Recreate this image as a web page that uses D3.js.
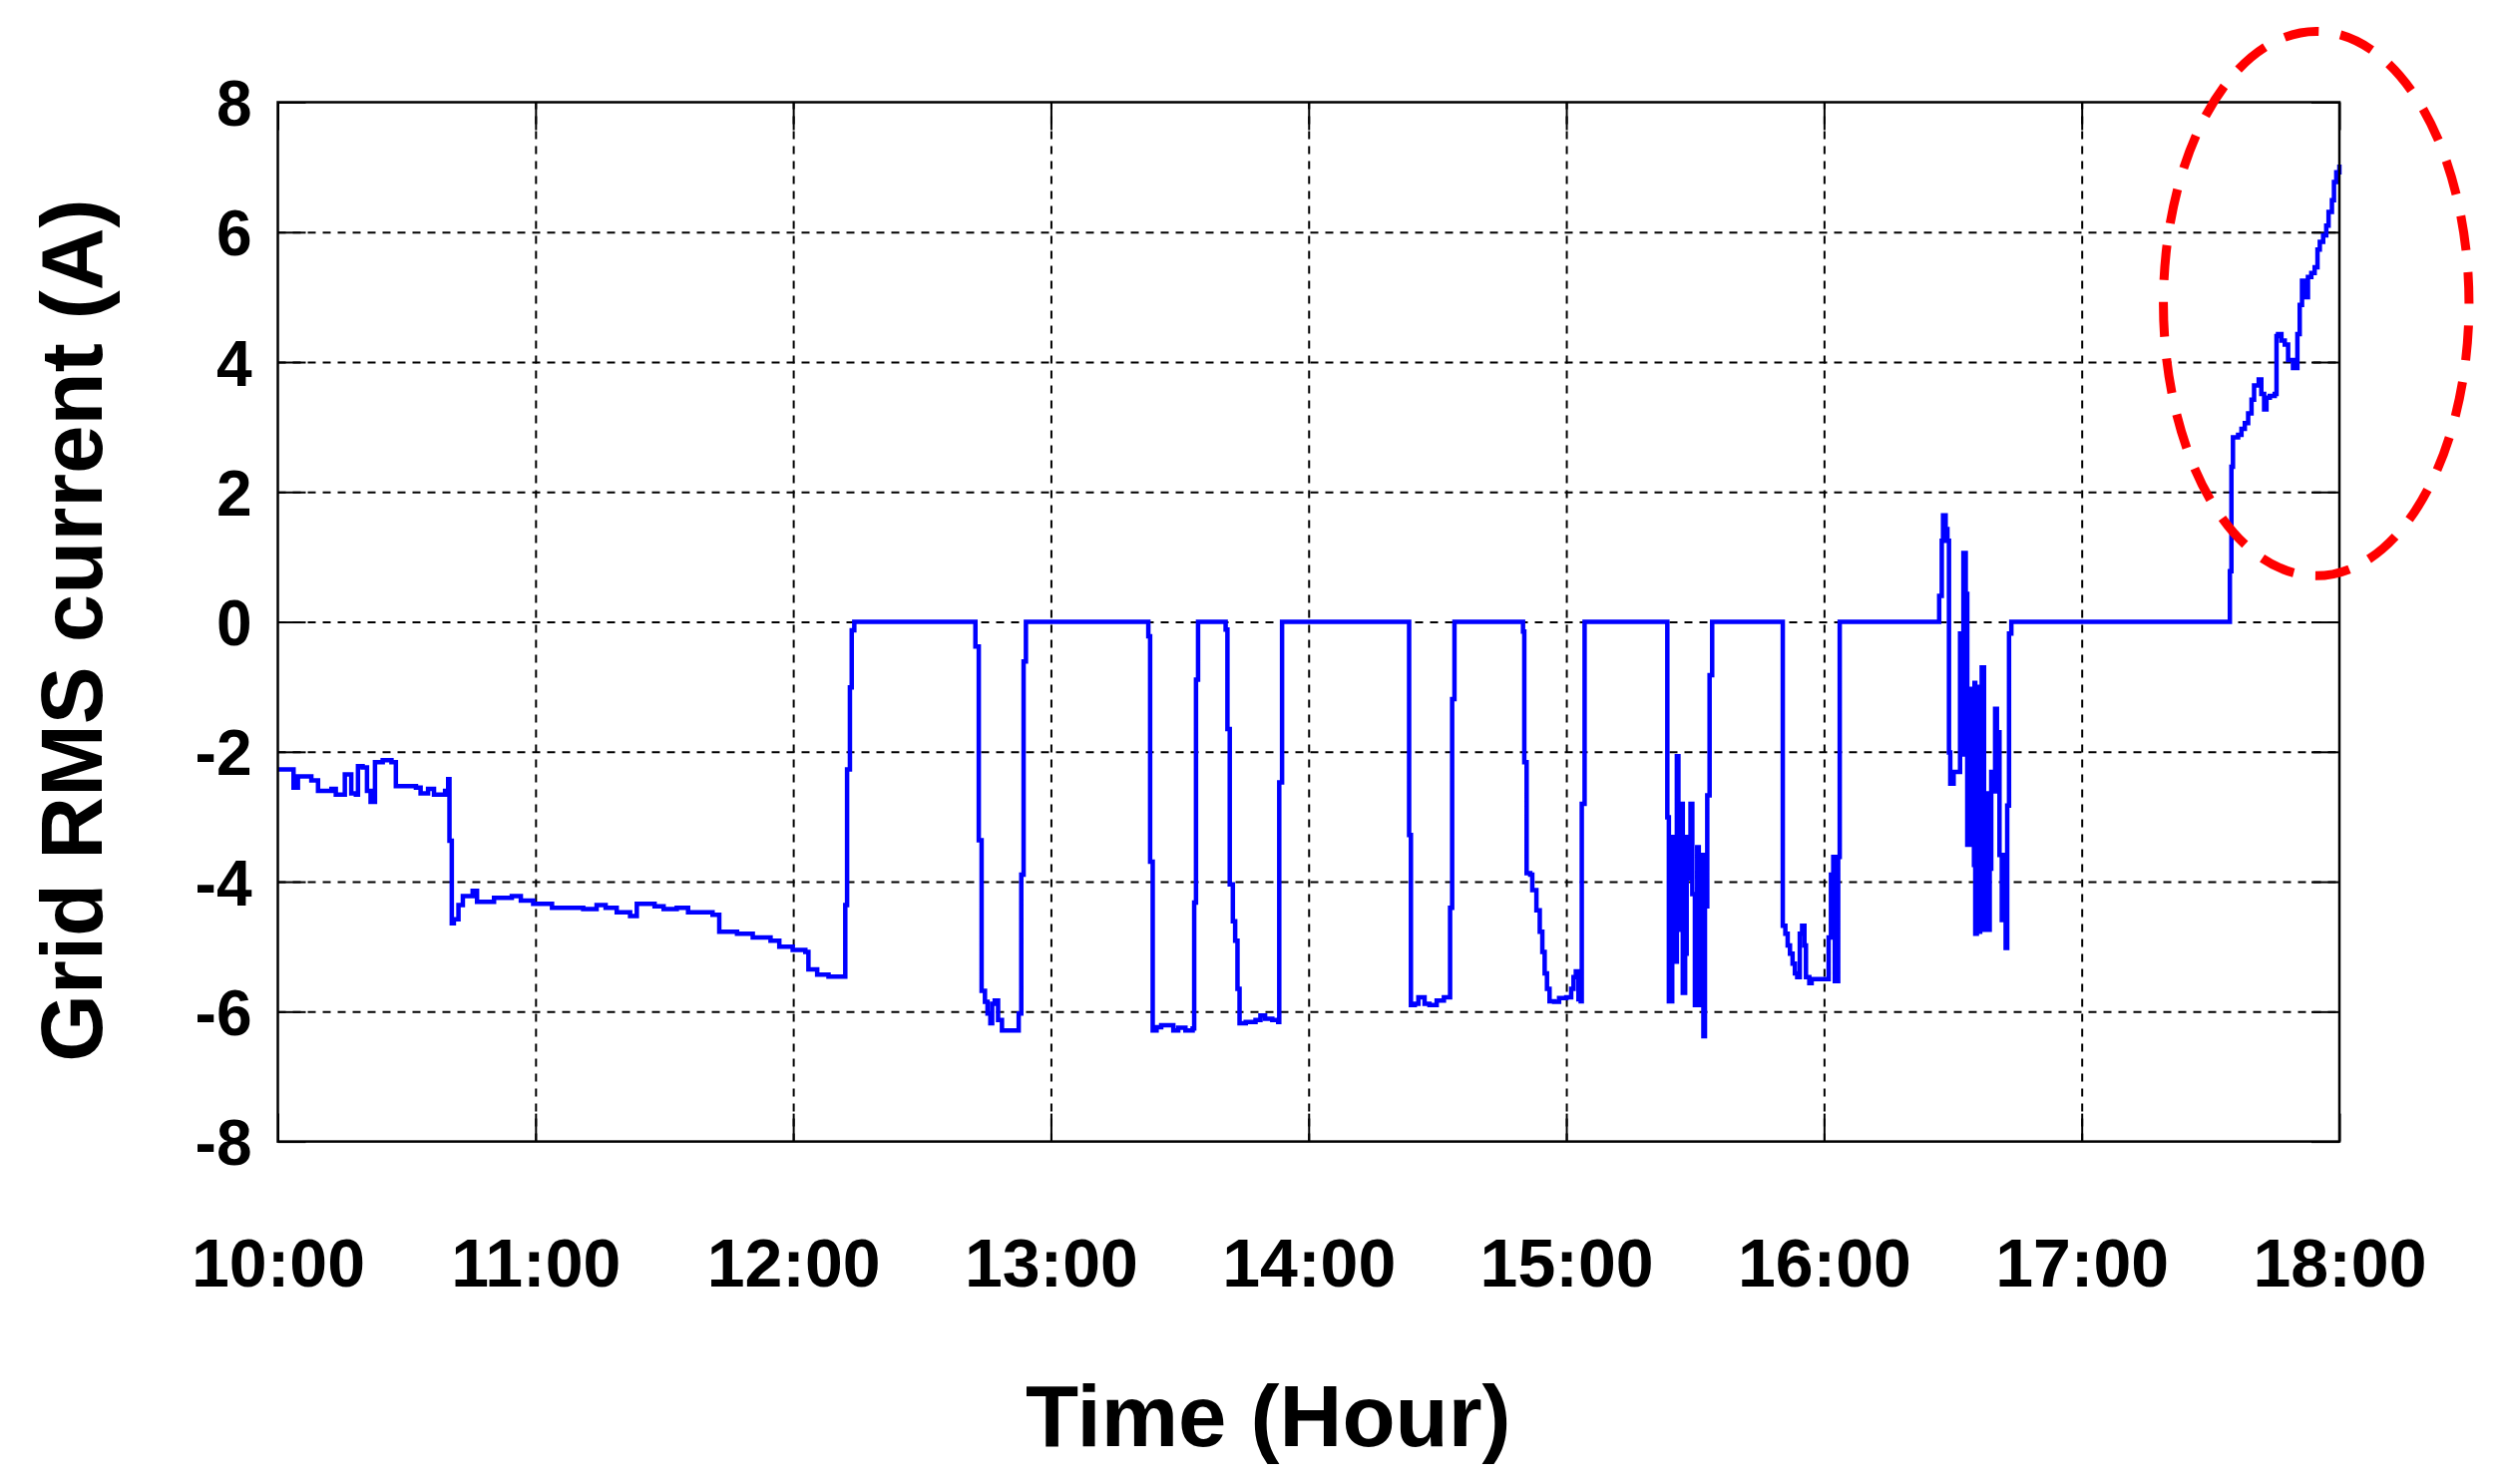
<!DOCTYPE html>
<html>
<head>
<meta charset="utf-8">
<script src="https://cdn.jsdelivr.net/npm/d3@7"></script>
<style>
  body { margin: 0; background: #fff; }
  svg { display: block; }
  .grid line { stroke: #000; stroke-width: 2; stroke-dasharray: 8,7; }
  .grid .domain { display: none; }
  .axis .domain { display: none; }
  .axis line { stroke: #000; stroke-width: 2; }
  .axis text, .label { font-family: "Liberation Sans", Arial, sans-serif; font-weight: bold; fill: #000; }
  .frame { fill: none; stroke: #000; stroke-width: 2.5; }
  .current-line { fill: none; stroke: #0000ff; stroke-width: 4.5; stroke-linejoin: miter; }
  .highlight { fill: none; stroke: #ff0000; stroke-width: 9; stroke-dasharray: 35,22; stroke-dashoffset: 35; }
</style>
</head>
<body>
<div id="chart"></div>
<script>
// time of day in decimal hours
var times = [
  10.000, 10.026, 10.061, 10.078, 10.130, 10.156, 10.208, 10.225, 10.260, 10.285,
  10.303, 10.311, 10.329, 10.346, 10.360, 10.377, 10.407, 10.441, 10.458, 10.536,
  10.554, 10.583, 10.606, 10.649, 10.661, 10.666, 10.675, 10.683, 10.701, 10.718,
  10.756, 10.773, 10.839, 10.908, 10.943, 10.991, 11.064, 11.185, 11.237, 11.272,
  11.315, 11.367, 11.393, 11.462, 11.497, 11.548, 11.592, 11.687, 11.713, 11.782,
  11.843, 11.912, 11.946, 11.998, 12.047, 12.059, 12.093, 12.137, 12.197, 12.202,
  12.209, 12.220, 12.227, 12.237,
  12.705, 12.707, 12.720, 12.731, 12.744, 12.754, 12.765, 12.772, 12.782, 12.795,
  12.810, 12.866, 12.875, 12.885, 12.894, 12.903,
  13.376, 13.378, 13.385, 13.395, 13.410, 13.428, 13.456, 13.475, 13.494, 13.522,
  13.550, 13.556, 13.563, 13.571,
  13.676, 13.678, 13.685, 13.694, 13.706, 13.715, 13.724, 13.732, 13.756, 13.794,
  13.813, 13.831, 13.859, 13.882, 13.886, 13.897,
  14.384, 14.390, 14.397, 14.412, 14.426, 14.450, 14.469, 14.497, 14.525, 14.544,
  14.549, 14.557, 14.566,
  14.828, 14.832, 14.837, 14.846, 14.860, 14.868, 14.884, 14.897, 14.907, 14.916,
  14.925, 14.935, 14.953, 14.972, 15.000, 15.019, 15.028, 15.037, 15.047, 15.056,
  15.060, 15.071,
  15.388, 15.392, 15.398, 15.407, 15.411, 15.420, 15.429, 15.435, 15.444, 15.452,
  15.461, 15.467, 15.476, 15.482, 15.489, 15.499, 15.508, 15.514, 15.523, 15.532,
  15.538, 15.547, 15.556, 15.566,
  15.837, 15.840, 15.850, 15.859, 15.868, 15.878, 15.887, 15.896, 15.906, 15.915,
  15.924, 15.930, 15.943, 15.952, 16.012, 16.018, 16.027, 16.036, 16.042, 16.049,
  16.055, 16.061,
  16.442, 16.447, 16.457, 16.462, 16.472, 16.479, 16.485, 16.490, 16.503, 16.522,
  16.528, 16.535, 16.541, 16.550, 16.556, 16.563, 16.569, 16.574, 16.582, 16.584,
  16.587, 16.593, 16.599, 16.606, 16.612, 16.621, 16.628, 16.636, 16.643, 16.649,
  16.658, 16.664, 16.671, 16.681, 16.690, 16.699, 16.705, 16.711, 16.718, 16.727,
  17.573, 17.575, 17.581, 17.587, 17.607, 17.620, 17.633, 17.646, 17.659, 17.669,
  17.687, 17.697, 17.708, 17.717, 17.730, 17.749, 17.756, 17.762, 17.775, 17.788,
  17.801, 17.820, 17.833, 17.837, 17.846, 17.855, 17.865, 17.872, 17.878, 17.891,
  17.904, 17.915, 17.924, 17.937, 17.949, 17.958, 17.971, 17.979, 17.988, 18.000
];

// grid RMS current (A)
var current = [
  -2.27, -2.27, -2.55, -2.38, -2.44, -2.60, -2.57, -2.66, -2.35, -2.64,
  -2.66, -2.22, -2.24, -2.60, -2.77, -2.16, -2.13, -2.16, -2.53, -2.55,
  -2.64, -2.57, -2.66, -2.60, -2.42, -3.37, -4.64, -4.58, -4.36, -4.22,
  -4.14, -4.31, -4.25, -4.22, -4.29, -4.34, -4.40, -4.42, -4.36, -4.40,
  -4.47, -4.53, -4.34, -4.38, -4.42, -4.40, -4.47, -4.51, -4.77, -4.80,
  -4.86, -4.91, -5.00, -5.05, -5.08, -5.35, -5.43, -5.46, -5.46, -4.36,
  -2.27, -1.01, -0.13, 0,
  0, -0.38, -3.36, -5.68, -5.85, -6.03, -6.18, -5.88, -5.83, -6.13,
  -6.29, -6.29, -6.03, -3.89, -0.61, 0,
  0, -0.22, -3.69, -6.29, -6.24, -6.21, -6.21, -6.29, -6.25, -6.29,
  -6.26, -4.32, -0.89, 0,
  0, -0.12, -1.65, -4.04, -4.61, -4.91, -5.65, -6.18, -6.16, -6.13,
  -6.06, -6.11, -6.13, -6.16, -2.47, 0,
  0, -3.28, -5.90, -5.88, -5.78, -5.88, -5.90, -5.83, -5.78, -5.78,
  -4.40, -1.19, 0,
  0, -0.15, -2.16, -3.87, -3.89, -4.13, -4.44, -4.77, -5.08, -5.41,
  -5.65, -5.84, -5.85, -5.79, -5.78, -5.65, -5.47, -5.38, -5.81, -5.84,
  -2.80, 0,
  0, -3.01, -5.84, -5.84, -3.31, -5.23, -2.07, -4.74, -2.80, -5.71,
  -5.11, -3.31, -3.95, -2.80, -4.19, -5.90, -3.47, -5.90, -3.59, -6.38,
  -4.38, -2.67, -0.82, 0,
  0, -4.68, -4.80, -4.98, -5.11, -5.26, -5.41, -5.47, -4.80, -4.68,
  -4.98, -5.47, -5.56, -5.50, -5.50, -4.86, -3.89, -3.62, -5.53, -5.53,
  -3.62, 0,
  0, 0.40, 1.25, 1.64, 1.43, 1.25, -2.01, -2.49, -2.31, -2.31,
  -0.18, -2.04, 1.06, 0.43, -3.43, -1.03, -3.43, -1.40, -3.74, -0.94,
  -4.80, -1.00, -4.77, -3.10, -0.70, -4.74, -2.64, -4.74, -3.80, -2.31,
  -2.61, -1.34, -1.70, -3.59, -4.59, -3.59, -5.02, -2.83, -0.18, 0,
  0, 0.78, 2.39, 2.84, 2.88, 2.97, 3.06, 3.21, 3.42, 3.64,
  3.73, 3.51, 3.27, 3.45, 3.48, 3.51, 4.40, 4.43, 4.33, 4.27,
  4.03, 3.91, 3.91, 4.43, 4.88, 5.25, 5.22, 5.00, 5.31, 5.37,
  5.46, 5.73, 5.85, 5.95, 6.10, 6.31, 6.49, 6.77, 6.92, 7.04
];

var hourTicks = [10, 11, 12, 13, 14, 15, 16, 17, 18];
var hourLabels = ["10:00", "11:00", "12:00", "13:00", "14:00", "15:00", "16:00", "17:00", "18:00"];
var currentTicks = [-8, -6, -4, -2, 0, 2, 4, 6, 8];

// set the dimensions and margins of the graph
var margin = {top: 102.5, right: 165, bottom: 343.4, left: 278.5},
    width = 2510 - margin.left - margin.right,
    height = 1488 - margin.top - margin.bottom;

var data = times.map(function(t, i) { return {t: t, v: current[i]}; });

var x = d3.scaleLinear().domain([10, 18]).range([0, width]);
var y = d3.scaleLinear().domain([-8, 8]).range([height, 0]);

var svg = d3.select("#chart").append("svg")
    .attr("width", width + margin.left + margin.right)
    .attr("height", height + margin.top + margin.bottom)
    .append("g")
    .attr("transform", "translate(" + margin.left + "," + margin.top + ")");

// dashed grid
svg.append("g")
    .attr("class", "grid")
    .attr("transform", "translate(0," + height + ")")
    .call(d3.axisBottom(x).tickValues(hourTicks.slice(1, -1)).tickSize(-height).tickFormat(""));

svg.append("g")
    .attr("class", "grid")
    .call(d3.axisLeft(y).tickValues(currentTicks.slice(1, -1)).tickSize(-width).tickFormat(""));

// inward ticks on all four sides
var tickLen = 28;

var xAxis = svg.append("g")
    .attr("class", "x axis")
    .attr("transform", "translate(0," + height + ")")
    .call(d3.axisBottom(x).tickValues(hourTicks)
        .tickFormat(function(d, i) { return hourLabels[i]; })
        .tickSizeInner(-tickLen).tickSizeOuter(0));
xAxis.selectAll("text")
    .attr("y", 145)
    .attr("dy", 0)
    .style("font-size", "68px");

svg.append("g")
    .attr("class", "axis")
    .call(d3.axisTop(x).tickValues(hourTicks).tickFormat("").tickSizeInner(-tickLen).tickSizeOuter(0));

// plain hyphen for the minus sign, as in the original
var yAxis = svg.append("g")
    .attr("class", "y axis")
    .call(d3.axisLeft(y).tickValues(currentTicks)
        .tickFormat(function(d) { return String(d); })
        .tickSizeInner(-tickLen).tickSizeOuter(0).tickPadding(26));
yAxis.selectAll("text")
    .attr("dy", "0.36em")
    .style("font-size", "64px");

svg.append("g")
    .attr("class", "axis")
    .attr("transform", "translate(" + width + ",0)")
    .call(d3.axisRight(y).tickValues(currentTicks).tickFormat("").tickSizeInner(-tickLen).tickSizeOuter(0));

// the measured current, sampled so drawn as steps
var line = d3.line()
    .curve(d3.curveStepAfter)
    .x(function(d) { return x(d.t); })
    .y(function(d) { return y(d.v); });

svg.append("path")
    .datum(data)
    .attr("class", "current-line")
    .attr("d", line);

// plot frame
svg.append("rect")
    .attr("class", "frame")
    .attr("width", width)
    .attr("height", height);

// red dashed ring round the evening rise
svg.append("ellipse")
    .attr("class", "highlight")
    .attr("cx", x(17.91))
    .attr("cy", y(4.9))
    .attr("rx", x(17.91 + 0.593) - x(17.91))
    .attr("ry", y(4.9 - 4.19) - y(4.9));

// axis titles
svg.append("text")
    .attr("class", "label")
    .attr("transform", "rotate(-90)")
    .attr("y", 102 - margin.left)
    .attr("x", 0 - (height / 2 + 8.5))
    .style("text-anchor", "middle")
    .style("font-size", "87px")
    .text("Grid RMS current (A)");

svg.append("text")
    .attr("class", "label")
    .attr("y", 1450 - margin.top)
    .attr("x", width / 2 - 40.5)
    .style("text-anchor", "middle")
    .style("font-size", "87px")
    .text("Time (Hour)");
</script>
</body>
</html>
